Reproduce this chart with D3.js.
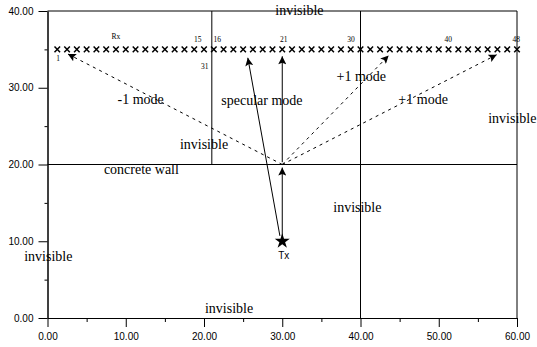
<!DOCTYPE html>
<html>
<head>
<meta charset="utf-8">
<script src="https://cdn.jsdelivr.net/npm/d3@7"></script>
<style>
  body { margin: 0; background: #fff; }
  svg { display: block; }
</style>
</head>
<body>
<div id="chart"></div>
<script>
// receiver positions along y = 35 (48 of them)
const rxX = [1.25, 2.5, 3.75, 5, 6.25, 7.5, 8.75, 10, 11.25, 12.5, 13.75, 15,
             16.25, 17.5, 18.75, 20, 21.25, 22.5, 23.75, 25, 26.25, 27.5, 28.75, 30,
             31.25, 32.5, 33.75, 35, 36.25, 37.5, 38.75, 40, 41.25, 42.5, 43.75, 45,
             46.25, 47.5, 48.75, 50, 51.25, 52.5, 53.75, 55, 56.25, 57.5, 58.75, 60];
const rxY = 35;
const tx = [30, 10];

// walls: [x1, y1, x2, y2]
const walls = [
  [0, 40, 60, 40],
  [60, 0, 60, 40],
  [0, 20, 60, 20],
  [21, 20, 21, 40],
  [40, 0, 40, 40]
];

// rays: [x1, y1, x2, y2, dashed]
const rays = [
  [30, 10.6, 30, 19.6, false],
  [30, 20.3, 30, 34.1, false],
  [29.7, 10.7, 25.6, 33.9, false],
  [30, 20, 2.6, 34.4, true],
  [30, 20, 43.6, 34.2, true],
  [30, 20, 57.4, 34.3, true]
];

// annotations: [text, x, y]
const notes = [
  ["invisible", 32.2, 39.5],
  ["-1 mode", 11.9, 27.9],
  ["specular mode", 27.4, 27.7],
  ["+1 mode", 40.1, 30.9],
  ["+1 mode", 48.0, 27.9],
  ["invisible", 59.4, 25.4],
  ["invisible", 20.0, 22.0],
  ["concrete wall", 12.0, 18.8],
  ["invisible", 39.6, 13.8],
  ["invisible", 0.1, 7.4],
  ["invisible", 23.2, 0.7]
];

// small receiver labels: [text, x, y]
const rxLabels = [
  ["Rx", 8.75, 36.3],
  ["15", 19.2, 35.9],
  ["16", 21.7, 35.9],
  ["21", 30.2, 35.9],
  ["30", 38.8, 35.9],
  ["40", 51.2, 35.9],
  ["48", 59.9, 35.9],
  ["1", 1.35, 33.5],
  ["31", 20.1, 32.4]
];

const xMajor = [0, 10, 20, 30, 40, 50, 60];
const xMinor = [5, 15, 25, 35, 45, 55];
const yMajor = [0, 10, 20, 30, 40];
const yMinor = [5, 15, 25, 35];

function drawChart(containerId) {
  const W = 537, H = 347;
  const margin = { top: 11, right: 20, bottom: 29, left: 47.5 },
        width = W - margin.left - margin.right,
        height = H - margin.top - margin.bottom;

  const root = d3.select(`#${containerId}`)
    .append("svg")
      .attr("width", W)
      .attr("height", H);

  // arrow head
  root.append("defs").append("marker")
      .attr("id", "arrow")
      .attr("viewBox", "0 0 10 10")
      .attr("refX", 10)
      .attr("refY", 5)
      .attr("markerUnits", "userSpaceOnUse")
      .attr("markerWidth", 11)
      .attr("markerHeight", 8)
      .attr("orient", "auto")
    .append("path")
      .attr("d", "M0,0 L10,5 L0,10 L2,5 z")
      .attr("fill", "#000");

  const svg = root.append("g")
      .attr("transform", `translate(${margin.left},${margin.top})`);

  const x = d3.scaleLinear().domain([0, 60]).range([0, width]);
  const y = d3.scaleLinear().domain([0, 40]).range([height, 0]);

  const fmt = d3.format(".2f");

  // axes
  svg.append("g")
      .call(d3.axisLeft(y).tickValues(yMajor).tickFormat(fmt).tickSize(9).tickSizeOuter(0).tickPadding(5));
  svg.append("g")
      .call(d3.axisLeft(y).tickValues(yMinor).tickFormat("").tickSize(3).tickSizeOuter(0));
  svg.append("g")
      .attr("transform", `translate(0,${height})`)
      .call(d3.axisBottom(x).tickValues(xMajor).tickFormat(fmt).tickSize(9).tickSizeOuter(0).tickPadding(6));
  svg.append("g")
      .attr("transform", `translate(0,${height})`)
      .call(d3.axisBottom(x).tickValues(xMinor).tickFormat("").tickSize(4).tickSizeOuter(0));

  svg.selectAll(".tick text")
      .style("font-family", "'Liberation Sans', Arial, sans-serif")
      .style("font-size", "10px")
      .style("fill", "#000");
  svg.selectAll(".domain, .tick line").attr("stroke", "#000");

  // walls
  svg.append("g")
    .selectAll("line")
    .data(walls)
    .join("line")
      .attr("x1", d => x(d[0]))
      .attr("y1", d => y(d[1]))
      .attr("x2", d => x(d[2]))
      .attr("y2", d => y(d[3]))
      .attr("stroke", "#000")
      .attr("stroke-width", 1);

  // rays
  svg.append("g")
    .selectAll("line")
    .data(rays)
    .join("line")
      .attr("x1", d => x(d[0]))
      .attr("y1", d => y(d[1]))
      .attr("x2", d => x(d[2]))
      .attr("y2", d => y(d[3]))
      .attr("stroke", "#000")
      .attr("stroke-width", 1)
      .attr("stroke-dasharray", d => d[4] ? "3,4" : null)
      .attr("marker-end", "url(#arrow)");

  // receivers
  svg.append("g")
    .selectAll("path")
    .data(rxX)
    .join("path")
      .attr("transform", d => `translate(${x(d)},${y(rxY)})`)
      .attr("d", d3.symbol(d3.symbolTimes, 22))
      .attr("fill", "none")
      .attr("stroke", "#000")
      .attr("stroke-width", 1.5);

  // transmitter
  svg.append("path")
      .attr("transform", `translate(${x(tx[0])},${y(tx[1])})`)
      .attr("d", d3.symbol(d3.symbolStar, 70))
      .attr("fill", "#000");

  svg.append("text")
      .attr("x", x(30.2))
      .attr("y", y(7.7))
      .attr("text-anchor", "middle")
      .style("font-family", "'Liberation Sans', Arial, sans-serif")
      .style("font-size", "10px")
      .text("Tx");

  // annotations
  svg.append("g")
    .selectAll("text")
    .data(notes)
    .join("text")
      .attr("x", d => x(d[1]))
      .attr("y", d => y(d[2]))
      .attr("text-anchor", "middle")
      .style("font-family", "'Liberation Serif', 'Times New Roman', serif")
      .style("font-size", "14px")
      .text(d => d[0]);

  svg.append("g")
    .selectAll("text")
    .data(rxLabels)
    .join("text")
      .attr("x", d => x(d[1]))
      .attr("y", d => y(d[2]))
      .attr("text-anchor", "middle")
      .style("font-family", "'Liberation Serif', 'Times New Roman', serif")
      .style("font-size", "7.5px")
      .text(d => d[0]);
}

document.addEventListener("DOMContentLoaded", function () {
  drawChart("chart");
});
</script>
</body>
</html>
